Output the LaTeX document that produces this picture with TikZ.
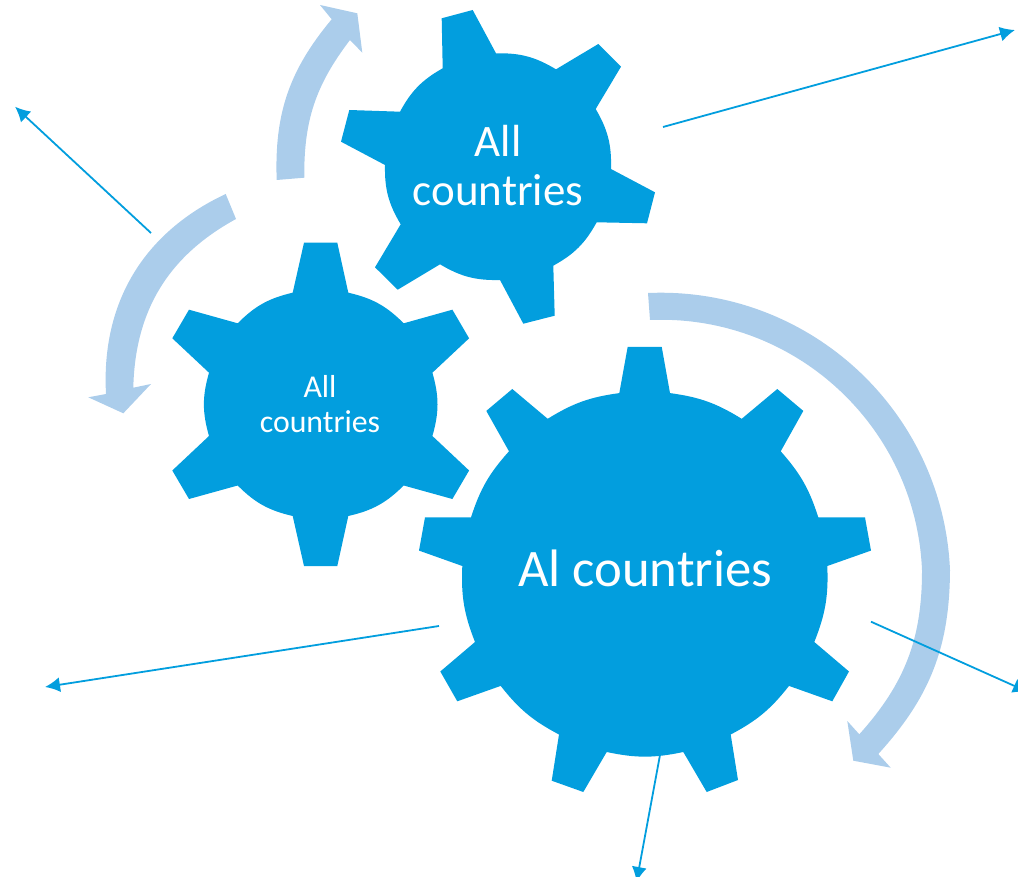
\documentclass[tikz,border=0pt]{standalone}
\usepackage{fontspec}
\setmainfont{Carlito}
\usetikzlibrary{arrows.meta}
\definecolor{gearblue}{RGB}{2,158,222}
\definecolor{swingblue}{RGB}{171,205,235}
\tikzset{
  gear/.style={fill=gearblue},
  swing/.style={fill=swingblue},
  bigrim/.style={bend left=12},
  midrim/.style={bend left=16},
  pointer/.style={draw=gearblue,line width=1.8pt,-{Latex[length=15pt,width=15pt]}},
  gearlabel/.style={text=white,align=center,inner sep=0pt}
}
\begin{document}
\begin{tikzpicture}[x=1pt,y=-1pt]
\useasboundingbox (0,0) rectangle (1018,877);
\clip (0,0) rectangle (1018,877);
\def\topgear{(441.7,18.3) -- (472.7,10) -- (496,53.3) to[midrim] (556,69.3) -- (598.3,44) -- (621,66.7) -- (595.7,109)
  to[midrim] (611,169) -- (655,192.3) -- (647,223.3) -- (596.7,222.3) to[midrim] (553.3,265.7) -- (554.7,315.7) -- (523.3,323.7) -- (500,280)
  to[midrim] (440,264.3) -- (397.7,289.7) -- (375,267.3) -- (400.7,224.3) to[midrim] (385,165) -- (341,141.7) -- (349.3,110) -- (400,111.7)
  to[midrim] (442.7,68.3) -- cycle}
\def\leftgear{(304,242.7) -- (337.3,242.7) -- (348.3,292.7) to[midrim] (403.7,323.3) -- (452.4,309.7) -- (469.1,338.3) -- (432.4,372.7)
  to[midrim] (432.4,436) -- (469.1,470.5) -- (452.4,499) -- (403.7,485.5) to[midrim] (348.3,516) -- (337.3,566) -- (304,566) -- (292.7,516)
  to[midrim] (237.7,485.5) -- (189,499) -- (172.3,470.5) -- (209,436) to[midrim] (209,372.7) -- (172.3,338.3) -- (189,309.7) -- (237.7,323.3)
  to[midrim] (292.7,292.7) -- cycle}
\def\maingear{(627.7,346.8) -- (661.7,346.8) -- (670,393.1) to[bigrim] (741.7,418.8) -- (777.3,389) -- (803.3,410.9) -- (780.7,451.3)
  to[bigrim] (818.3,517.4) -- (865,517.4) -- (871,550.6) -- (827.3,566) to[bigrim] (814.3,642) -- (849,671.5) -- (832.3,701.3) -- (789,685.9)
  to[bigrim] (730.7,734.5) -- (738,780) -- (706.7,792) -- (683.3,752) to[bigrim] (606.7,752) -- (583.3,792) -- (551.7,780.7) -- (559,734.5)
  to[bigrim] (500.7,685.9) -- (457.3,701.3) -- (440.3,671.5) -- (475,642) to[bigrim] (462.3,566) -- (419,550.6) -- (425,517.4) -- (471,517.4)
  to[bigrim] (509,451.3) -- (486.3,410.9) -- (512.3,389) -- (547.7,418.8) to[bigrim] (619.3,393.1) -- cycle}

\fill[swing] (276.7,180) to[bend left=21] (331.7,19.3) -- (320,5) -- (357.3,13.3) -- (362.3,52.7) -- (350,40) to[bend right=19] (304.3,177.7) -- cycle;
\fill[swing] (225.7,194) to[bend right=34] (106,394) -- (88.3,397.3) -- (123.3,413.3) -- (151,384) -- (133.3,387.7) to[bend left=30] (236,219) -- cycle;
\fill[swing] (648,293) to[bend left=45] (950,570) to[bend left=21] (878.3,754) -- (890.7,767.7) -- (853.3,760.7) -- (847.3,721) -- (859.3,734.3)
  to[bend right=21] (922,570) to[bend right=45] (650,320) -- cycle;

\fill[gear] \topgear;
\fill[gear] \leftgear;
\fill[gear] \maingear;

\node[gearlabel,font=\fontsize{45}{49}\selectfont] (toplabel) at (498,165.5) {All\\countries};
\node[gearlabel,font=\fontsize{31.8}{35}\selectfont] (leftlabel) at (320,404) {All\\countries};
\node[gearlabel,font=\fontsize{52.7}{58}\selectfont] (mainlabel) at (645,568) {Al countries};

\coordinate (upleftfrom) at (151,233);
\coordinate (upleftto) at (15,106.7);
\coordinate (uprightfrom) at (663,127);
\coordinate (uprightto) at (1015,30);
\coordinate (lowleftfrom) at (439,626);
\coordinate (lowleftto) at (45,687);
\coordinate (downfrom) at (660,755);
\coordinate (downto) at (636.5,882);
\coordinate (lowrightfrom) at (871,621.7);
\coordinate (lowrightto) at (1028,692);
\draw[pointer] (upleftfrom) -- (upleftto);
\draw[pointer] (uprightfrom) -- (uprightto);
\draw[pointer] (lowleftfrom) -- (lowleftto);
\draw[pointer] (downfrom) -- (downto);
\draw[pointer] (lowrightfrom) -- (lowrightto);
\end{tikzpicture}
\end{document}
